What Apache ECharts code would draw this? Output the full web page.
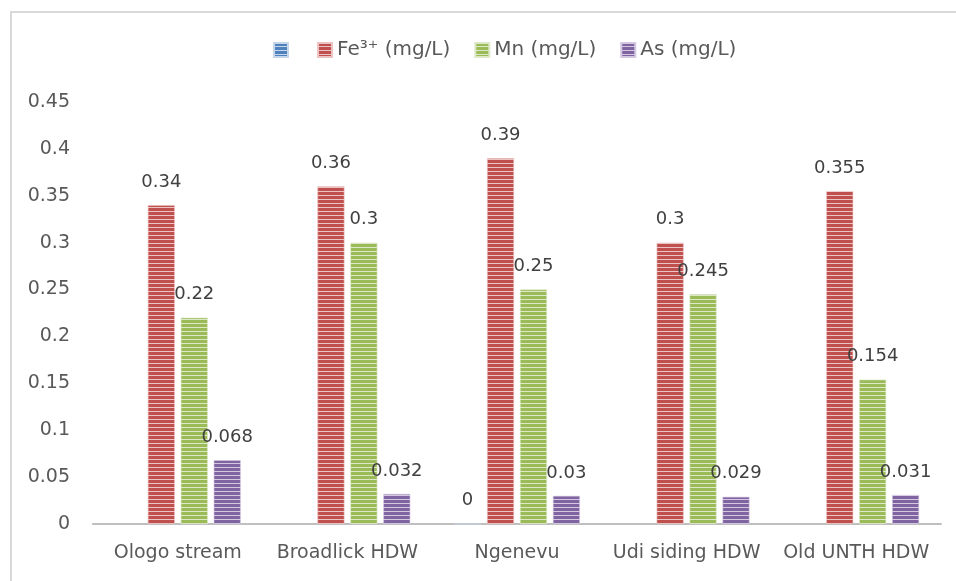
<!DOCTYPE html>
<html><head><meta charset="utf-8">
<script src="https://cdn.jsdelivr.net/npm/echarts@6/dist/echarts.min.js"></script>
<style>html,body{margin:0;padding:0;background:#fff}#c{width:956px;height:581px}</style>
</head><body><div id="c"></div>
<script>
var categories = ['Ologo stream', 'Broadlick HDW', 'Ngenevu', 'Udi siding HDW', 'Old UNTH HDW'];
var seriesNames = ['\u200B', 'Fe³⁺ (mg/L)', 'Mn (mg/L)', 'As (mg/L)'];
var blankVals = [null, null, 0, null, null];
var feVals = [0.34, 0.36, 0.39, 0.3, 0.355];
var mnVals = [0.22, 0.3, 0.25, 0.245, 0.154];
var asVals = [0.068, 0.032, 0.03, 0.029, 0.031];
var yTicks = { min: 0, max: 0.45, interval: 0.05 };

function stripe(dark, light) {
  var c = document.createElement('canvas');
  c.width = 4; c.height = 4;
  var g = c.getContext('2d');
  g.fillStyle = dark; g.fillRect(0, 0, 4, 4);
  g.fillStyle = light; g.fillRect(0, 3, 4, 1);
  return { image: c, repeat: 'repeat' };
}
var palettes = [
  ['#4F81BD', '#C5D5EA'],
  ['#C0504D', '#EBC3C2'],
  ['#9BBB59', '#DCE8C6'],
  ['#8064A2', '#D3C8E0']
];
var allVals = [blankVals, feVals, mnVals, asVals];
var font = 'DejaVu Sans';
var series = seriesNames.map(function (n, i) {
  return {
    name: n, type: 'bar', data: allVals[i],
    barWidth: 27, barGap: '22%',
    itemStyle: { color: stripe(palettes[i][0], palettes[i][1]), borderColor: palettes[i][1], borderWidth: 0.6 },
    label: { show: true, position: 'top', distance: 14, color: '#404040', fontFamily: font, fontSize: 18,
      formatter: function (p) { return p.value == null ? '' : String(p.value); } }
  };
});

var chart = echarts.init(document.getElementById('c'), null, { renderer: 'canvas' });
chart.setOption({
  animation: false,
  backgroundColor: '#fff',
  graphic: [{ type: 'rect', shape: { x: 11, y: 12, width: 960, height: 600 }, style: { fill: 'none', stroke: '#D9D9D9', lineWidth: 2 }, silent: true }],
  legend: {
    data: seriesNames, left: 268, top: 35, icon: 'rect', itemWidth: 14, itemHeight: 14, itemGap: 24,
    textStyle: { fontFamily: font, fontSize: 20, color: '#595959' }
  },
  grid: { left: 93, right: 15, top: 102, bottom: 57, containLabel: false },
  xAxis: {
    type: 'category', data: categories,
    axisLine: { lineStyle: { color: '#BFBFBF', width: 2 } },
    axisTick: { show: false },
    axisLabel: { interval: 0, fontFamily: font, fontSize: 19, color: '#595959', margin: 20 }
  },
  yAxis: {
    type: 'value', min: yTicks.min, max: yTicks.max, interval: yTicks.interval,
    axisLine: { show: false }, axisTick: { show: false }, splitLine: { show: false },
    axisLabel: { fontFamily: font, fontSize: 19, color: '#595959', margin: 23 }
  },
  series: series
});
</script></body></html>
